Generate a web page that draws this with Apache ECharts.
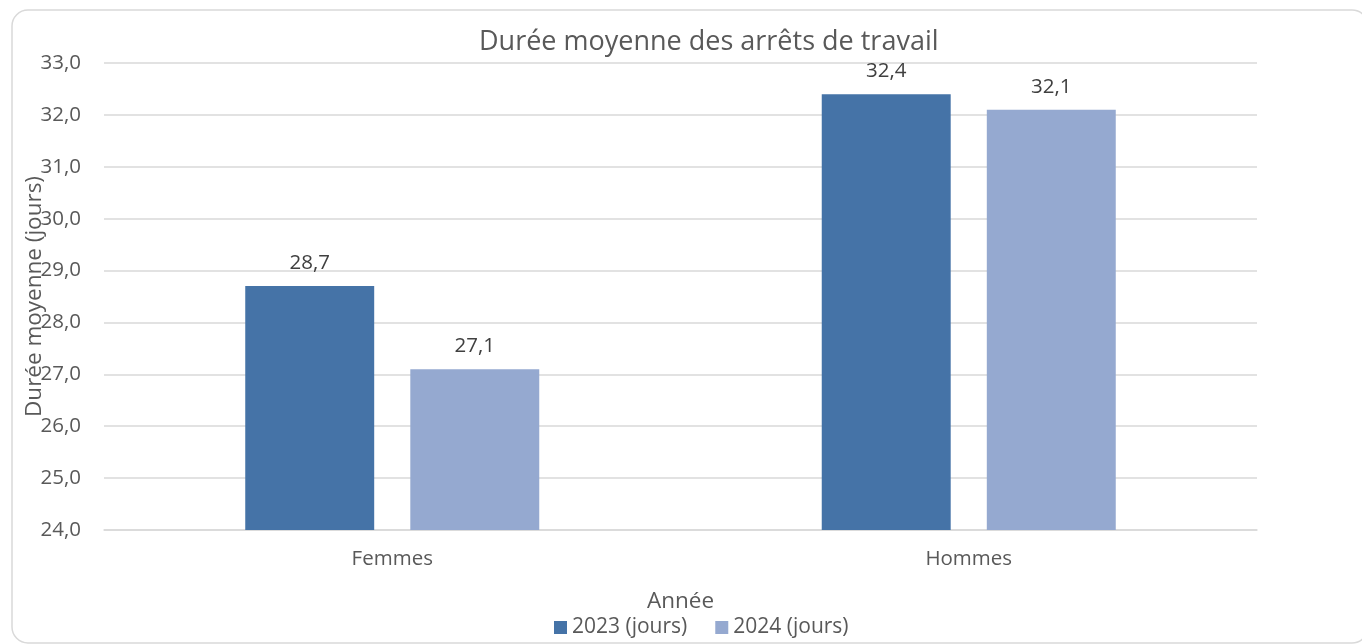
<!DOCTYPE html>
<html>
<head>
<meta charset="utf-8">
<script src="https://cdn.jsdelivr.net/npm/echarts@6/dist/echarts.min.js"></script>
<style>
html,body{margin:0;padding:0;background:#fff;}
#chart{width:1362px;height:644px;}
</style>
</head>
<body>
<div id="chart"></div>
<script>
const categories = ['Femmes', 'Hommes'];
const seriesNames = ['2023 (jours)', '2024 (jours)'];
const values2023 = [28.7, 32.4];
const values2024 = [27.1, 32.1];
const yMin = 24, yMax = 33, yStep = 1;

const fmt = v => v.toFixed(1).replace('.', ',');
const font = '"Open Sans", sans-serif';

const chart = echarts.init(document.getElementById('chart'));
chart.setOption({
  animation: false,
  backgroundColor: '#ffffff',
  graphic: [{
    type: 'rect',
    shape: { x: 12, y: 10, width: 1356, height: 633, r: 16 },
    style: { fill: 'none', stroke: '#d9d9d9', lineWidth: 1.5 },
    silent: true
  }],
  title: {
    text: 'Durée moyenne des arrêts de travail',
    left: 474,
    top: 24,
    textStyle: { fontFamily: font, fontSize: 27, fontWeight: 'normal', color: '#595959' }
  },
  legend: {
    bottom: 1,
    left: 549,
    itemWidth: 13,
    itemHeight: 13,
    itemGap: 28,
    itemTextGap: 6,
    icon: 'rect',
    textStyle: { fontFamily: font, fontSize: 21, color: '#595959' },
    data: seriesNames
  },
  grid: { left: 104, right: 105, top: 63, bottom: 114, containLabel: false },
  xAxis: {
    type: 'category',
    data: categories,
    name: 'Année',
    nameLocation: 'middle',
    nameGap: 60,
    nameTextStyle: { fontFamily: font, fontSize: 22.5, color: '#595959' },
    axisLine: { show: true, lineStyle: { color: '#d9d9d9', width: 1.5 } },
    axisTick: { show: false },
    axisLabel: { fontFamily: font, fontSize: 20.5, color: '#595959', margin: 19 }
  },
  yAxis: {
    type: 'value',
    min: yMin,
    max: yMax,
    interval: yStep,
    name: 'Durée moyenne (jours)',
    nameLocation: 'middle',
    nameGap: 69,
    nameMoveOverlap: false,
    nameTextStyle: { fontFamily: font, fontSize: 22.5, color: '#595959', verticalAlign: 'middle' },
    axisLine: { show: false },
    axisTick: { show: false },
    splitLine: { lineStyle: { color: '#d9d9d9', width: 1.5 } },
    axisLabel: { fontFamily: font, fontSize: 20.5, color: '#595959', margin: 23, formatter: v => fmt(v) }
  },
  series: [
    {
      name: seriesNames[0],
      type: 'bar',
      data: values2023,
      barGap: '28%',
      barCategoryGap: '49%',
      itemStyle: { color: '#4573a7' },
      label: { show: true, position: 'top', distance: 12, fontFamily: font, fontSize: 20.5, color: '#404040', formatter: p => fmt(p.value) }
    },
    {
      name: seriesNames[1],
      type: 'bar',
      data: values2024,
      barGap: '28%',
      barCategoryGap: '49%',
      itemStyle: { color: '#95a9d0' },
      label: { show: true, position: 'top', distance: 12, fontFamily: font, fontSize: 20.5, color: '#404040', formatter: p => fmt(p.value) }
    }
  ]
});
</script>
</body>
</html>
